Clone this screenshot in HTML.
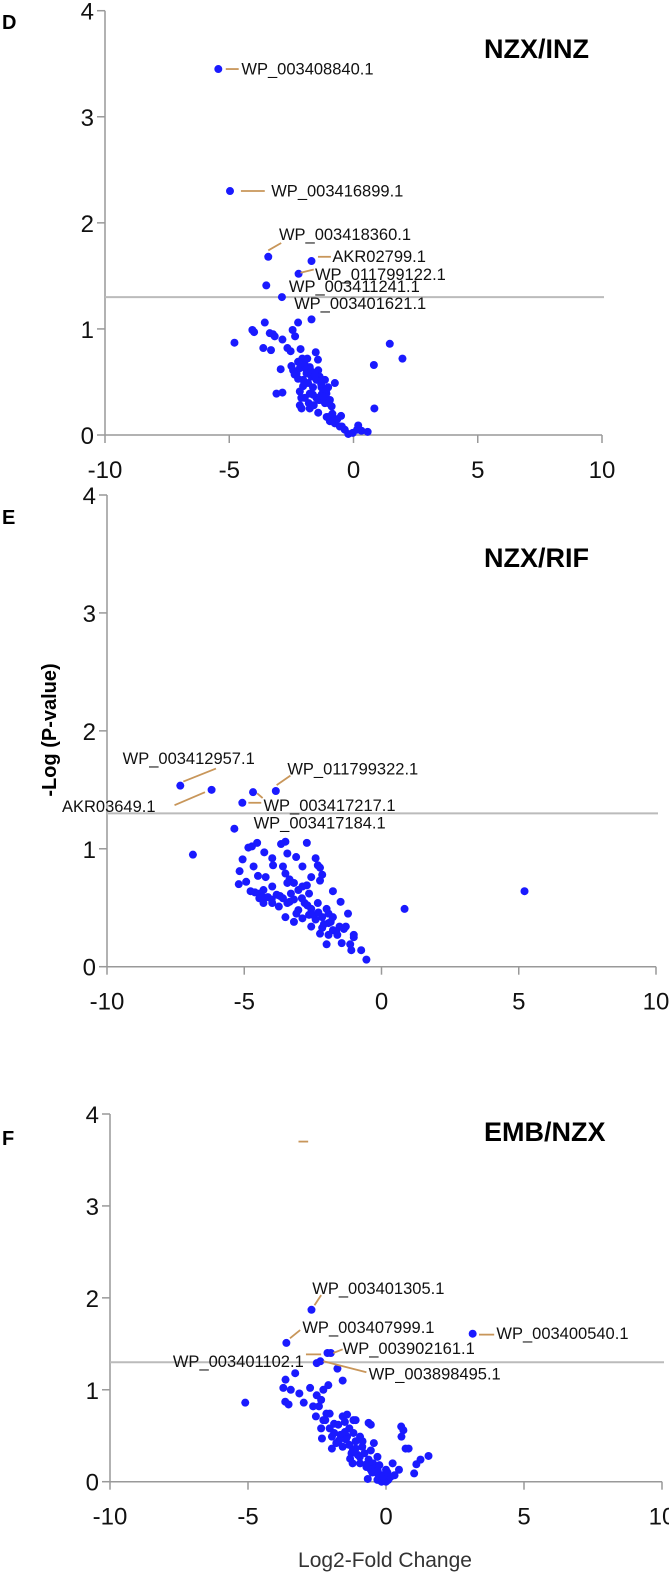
<!DOCTYPE html>
<html><head><meta charset="utf-8"><style>
html,body{margin:0;padding:0;background:#fff;}
svg{display:block;font-family:"Liberation Sans",Arial,sans-serif;}
</style></head><body>
<svg id="chart" width="669" height="1575" viewBox="0 0 669 1575" xmlns="http://www.w3.org/2000/svg">
<text x="2" y="29" font-size="20" font-weight="bold">D</text>
<text x="2" y="524" font-size="20" font-weight="bold">E</text>
<text x="2" y="1145" font-size="20" font-weight="bold">F</text>
<text x="484" y="58" font-size="27" font-weight="bold">NZX/INZ</text>
<text x="484" y="567" font-size="27" font-weight="bold">NZX/RIF</text>
<text x="484" y="1141" font-size="27" font-weight="bold">EMB/NZX</text>
<text transform="translate(56,730) rotate(-90)" text-anchor="middle" font-size="20" font-weight="bold">-Log (P-value)</text>
<text x="385" y="1567" text-anchor="middle" font-size="21" fill="#333">Log2-Fold Change</text>
</svg>
<script>
const xTicks = [-10, -5, 0, 5, 10];
const yTicks = [0, 1, 2, 3, 4];
const threshold = 1.3;

const dX = [-5.44,-4.97,-3.43,-1.69,-2.21,-3.51,-2.88,-1.69,-2.23,-3.57,-4.07,-4.0,-3.37,-3.24,-3.17,-2.45,-2.35,-2.86,-4.79,-3.63,-3.32,-2.66,-2.53,-2.13,-2.06,-1.52,-1.43,-1.86,1.46,1.97,0.82,0.84,-2.93,-2.43,-2.29,-2.16,-1.76,-1.42,-1.36,-1.15,-1.02,-0.75,-3.1,-2.86,-2.16,-1.96,-1.76,-1.49,-1.29,-1.15,-0.95,-0.88,-2.16,-2.09,-1.76,-1.42,-1.08,-0.95,-0.75,-0.55,-0.35,-0.21,0.19,0.32,-2.37,-2.23,-2.03,-1.83,-1.63,-1.69,-1.89,-1.49,-1.29,-1.22,-2.03,-1.63,-1.36,-1.09,-1.96,-2.23,-2.5,-0.03,0.14,0.57,-0.99,-0.82,-0.47,-1.9,-1.7,-1.55,-1.3,-1.1,-2.1,-1.8,-1.6,-1.4,-1.2,-1.0,-0.85,-0.65,-0.5];
const dY = [3.45,2.30,1.68,1.64,1.52,1.41,1.30,1.09,1.06,1.06,0.99,0.97,0.96,0.95,0.93,0.99,0.93,0.90,0.87,0.82,0.80,0.82,0.79,0.81,0.72,0.78,0.71,0.72,0.86,0.72,0.66,0.25,0.62,0.61,0.58,0.63,0.64,0.61,0.55,0.52,0.45,0.49,0.39,0.40,0.41,0.35,0.39,0.35,0.38,0.30,0.33,0.27,0.28,0.25,0.25,0.21,0.17,0.13,0.11,0.08,0.05,0.01,0.09,0.04,0.57,0.53,0.52,0.49,0.45,0.55,0.58,0.52,0.45,0.41,0.46,0.38,0.33,0.39,0.66,0.69,0.65,0.02,0.05,0.03,0.17,0.13,0.08,0.62,0.6,0.56,0.48,0.42,0.35,0.3,0.28,0.33,0.36,0.3,0.2,0.15,0.18];

const eX = [-7.33,-6.19,-4.68,-3.85,-5.07,-5.36,-6.87,5.21,0.84,-4.85,-4.72,-4.53,-3.5,-3.66,-2.72,-4.27,-3.43,-3.11,-5.06,-3.98,-3.95,-2.4,-2.32,-2.24,-2.16,-5.17,-4.66,-4.5,-3.59,-3.5,-3.35,-2.56,-5.2,-4.93,-3.98,-4.3,-4.61,-4.45,-4.3,-1.77,-1.49,-2.0,-1.45,-1.14,-1.01,-0.74,-0.55,-1.1,-4.45,-4.14,-3.82,-3.59,-3.98,-3.74,-3.43,-3.19,-3.03,-2.88,-2.72,-2.64,-3.03,-2.8,-2.56,-2.32,-3.5,-3.19,-2.88,-2.64,-2.4,-2.16,-1.93,-2.56,-2.16,-1.93,-1.77,-1.53,-1.37,-2.24,-1.93,-1.61,-1.77,-2.0,-2.24,-2.88,-3.19,-3.43,-4.22,-4.77,-4.33,-3.35,-1.01,-1.3,-1.22,-4.0,-3.7,-3.3,-3.1,-2.9,-2.7,-2.5,-2.3,-2.1,-1.85,-1.65];
const eY = [1.535,1.50,1.48,1.49,1.39,1.17,0.95,0.64,0.49,1.01,1.02,1.05,1.06,1.04,1.05,0.97,0.96,0.93,0.91,0.92,0.86,0.92,0.86,0.84,0.78,0.81,0.85,0.77,0.85,0.79,0.74,0.76,0.70,0.72,0.68,0.65,0.63,0.58,0.54,0.64,0.55,0.19,0.20,0.19,0.25,0.14,0.06,0.14,0.62,0.59,0.61,0.58,0.54,0.51,0.54,0.57,0.65,0.68,0.69,0.62,0.48,0.54,0.49,0.54,0.42,0.38,0.41,0.44,0.40,0.42,0.45,0.34,0.33,0.37,0.31,0.34,0.32,0.28,0.27,0.27,0.42,0.49,0.73,0.85,0.71,0.71,0.76,0.64,0.59,0.55,0.27,0.34,0.45,0.57,0.6,0.62,0.45,0.58,0.52,0.44,0.46,0.36,0.38,0.3];

const fX = [-2.70,-3.61,3.14,-2.12,-2.0,-2.51,-2.38,-1.76,-3.29,-3.64,-1.57,-2.09,-3.72,-3.45,-5.10,-3.65,-3.53,-3.14,-2.98,-2.75,-2.51,-2.27,-2.35,-2.43,-2.64,-2.54,-2.2,-2.04,0.55,0.63,0.56,0.71,0.82,-0.63,-0.55,1.54,1.25,1.1,1.02,0.47,0.24,-0.44,-2.32,-1.96,-1.21,-0.66,-0.31,-0.16,0,-1.88,-1.73,-1.49,-1.33,-1.1,-1.88,-1.65,-1.41,-1.18,-0.94,-1.8,-1.57,-1.33,-1.1,-0.86,-1.25,-1.02,-0.78,-0.63,-0.47,-0.71,-0.55,-0.39,-0.31,-0.16,-0.08,0.08,0.16,0.31,-1.96,-2.04,-2.35,-2.27,-2.16,-1.49,-1.1,-0.94,-0.55,-0.31,-0.24,0,-1.18,-1.57,-1.41,-1.7,-1.45,-1.2,-0.95,-0.7,-0.5,-0.3,-0.1,0.05,-1.3,-0.85];
const fY = [1.87,1.51,1.61,1.40,1.40,1.29,1.31,1.23,1.18,1.11,1.10,1.05,1.02,1.0,0.86,0.87,0.84,0.96,0.86,1.02,0.94,1.0,0.89,0.82,0.82,0.71,0.67,0.74,0.60,0.56,0.49,0.36,0.36,0.64,0.62,0.28,0.24,0.19,0.09,0.13,0.20,0.42,0.47,0.36,0.20,0.03,0.02,0.0,0.0,0.63,0.62,0.65,0.58,0.67,0.53,0.51,0.49,0.53,0.49,0.42,0.38,0.40,0.36,0.38,0.31,0.29,0.31,0.24,0.20,0.16,0.13,0.15,0.09,0.07,0.04,0.02,0.05,0.07,0.49,0.58,0.58,0.67,0.74,0.54,0.44,0.20,0.34,0.27,0.18,0.13,0.67,0.71,0.73,0.45,0.46,0.34,0.27,0.19,0.1,0.12,0.06,0.1,0.25,0.44];

const dLabels = ["WP_003408840.1","WP_003416899.1","WP_003418360.1","AKR02799.1","WP_011799122.1","WP_003411241.1","WP_003401621.1"];
const dLabelX = [-4.51,-3.31,-3.0,-0.85,-1.55,-2.6,-2.39];
const dLabelY = [3.40,2.25,1.84,1.63,1.46,1.35,1.19];
const dLineX1 = [-5.14,-4.53,-3.43,-1.43,-2.13];
const dLineY1 = [3.45,2.30,1.74,1.68,1.53];
const dLineX2 = [-4.62,-3.57,-2.91,-0.91,-1.6];
const dLineY2 = [3.45,2.30,1.81,1.68,1.56];

const eLabels = ["WP_003412957.1","WP_011799322.1","AKR03649.1","WP_003417217.1","WP_003417184.1"];
const eLabelX = [-9.43,-3.43,-11.64,-4.30,-4.66];
const eLabelY = [1.72,1.63,1.31,1.32,1.17];
const eLineX1 = [-7.22,-3.82,-7.54,-4.85,-4.53];
const eLineY1 = [1.57,1.54,1.37,1.39,1.47];
const eLineX2 = [-6.03,-3.32,-6.43,-4.38,-4.33];
const eLineY2 = [1.68,1.62,1.48,1.39,1.43];

const fLabels = ["WP_003401305.1","WP_003407999.1","WP_003400540.1","WP_003902161.1","WP_003401102.1","WP_003898495.1"];
const fLabelX = [-2.67,-3.03,4.0,-1.57,-2.98,-0.63];
const fLabelY = [2.04,1.62,1.55,1.39,1.25,1.11];
const fLabelEnd = [false,false,false,false,true,false];
const fLineX1 = [-2.59,-3.48,3.37,-1.91,-2.9,-2.27,-3.17];
const fLineY1 = [1.92,1.56,1.60,1.40,1.385,1.31,3.70];
const fLineX2 = [-2.35,-3.11,3.92,-1.57,-2.35,-0.71,-2.82];
const fLineY2 = [2.03,1.65,1.60,1.44,1.385,1.19,3.70];

const NS = "http://www.w3.org/2000/svg";
const svg = document.getElementById("chart");
function mk(tag, attrs, parent) {
  const el = document.createElementNS(NS, tag);
  for (const k in attrs) el.setAttribute(k, attrs[k]);
  (parent || svg).appendChild(el);
  return el;
}

function drawPanel(id, g, xs, ys, labels, lx, ly, lend, l1x, l1y, l2x, l2y) {
  const sx = v => g.x0 + (v + 10) / 20 * (g.x1 - g.x0);
  const sy = v => g.y0 - v / 4 * (g.y0 - g.y4);
  const grp = mk("g", {});
  
  
  const ya = mk("line", {x1: g.x0, y1: sy(4), x2: g.x0, y2: g.y0, stroke: "#999", "stroke-width": 1.5}, grp);
  
  
  const xa = mk("line", {x1: g.x0, y1: g.y0, x2: g.x1, y2: g.y0, stroke: "#999", "stroke-width": 1.5}, grp);
  
  
  xTicks.forEach(t => {
    const tk = mk("line", {x1: sx(t), y1: g.y0, x2: sx(t), y2: g.y0 + 8, stroke: "#999", "stroke-width": 1.5}, grp);
    
    
    const tl = mk("text", {x: sx(t), y: g.y0 + 43, "text-anchor": "middle", "font-size": 24, fill: "#111"}, grp);
    
    
    tl.textContent = t;
  });
  yTicks.forEach(t => {
    const tk = mk("line", {x1: g.x0 - 8, y1: sy(t), x2: g.x0, y2: sy(t), stroke: "#999", "stroke-width": 1.5}, grp);
    
    
    const tl = mk("text", {x: g.x0 - 11, y: sy(t) + 9, "text-anchor": "end", "font-size": 24, fill: "#111"}, grp);
    
    
    tl.textContent = t;
  });
  const th = mk("line", {x1: g.x0, y1: sy(threshold), x2: g.x1 + 2, y2: sy(threshold), stroke: "#bbb", "stroke-width": 2}, grp);
  
  
  for (let i = 0; i < xs.length; i++) {
    const c = mk("circle", {cx: sx(xs[i]), cy: sy(ys[i]), r: 4, fill: "#1a1aff"}, grp);
    
    
  }
  for (let i = 0; i < l1x.length; i++) {
    const l = mk("line", {x1: sx(l1x[i]), y1: sy(l1y[i]), x2: sx(l2x[i]), y2: sy(l2y[i]), stroke: "#c8965a", "stroke-width": 1.8}, grp);
    
    
  }
  for (let i = 0; i < labels.length; i++) {
    const t = mk("text", {x: sx(lx[i]), y: sy(ly[i]), "font-size": 16.5, fill: "#111", "text-anchor": (lend && lend[i]) ? "end" : "start"}, grp);
    
    
    t.textContent = labels[i];
  }
}

drawPanel("nzx-inz", {x0: 105, x1: 602, y0: 435, y4: 10.7}, dX, dY, dLabels, dLabelX, dLabelY, null, dLineX1, dLineY1, dLineX2, dLineY2);
drawPanel("nzx-rif", {x0: 107, x1: 656, y0: 966.7, y4: 495}, eX, eY, eLabels, eLabelX, eLabelY, null, eLineX1, eLineY1, eLineX2, eLineY2);
drawPanel("emb-nzx", {x0: 110, x1: 662, y0: 1481.7, y4: 1114}, fX, fY, fLabels, fLabelX, fLabelY, fLabelEnd, fLineX1, fLineY1, fLineX2, fLineY2);
</script>
</body></html>
